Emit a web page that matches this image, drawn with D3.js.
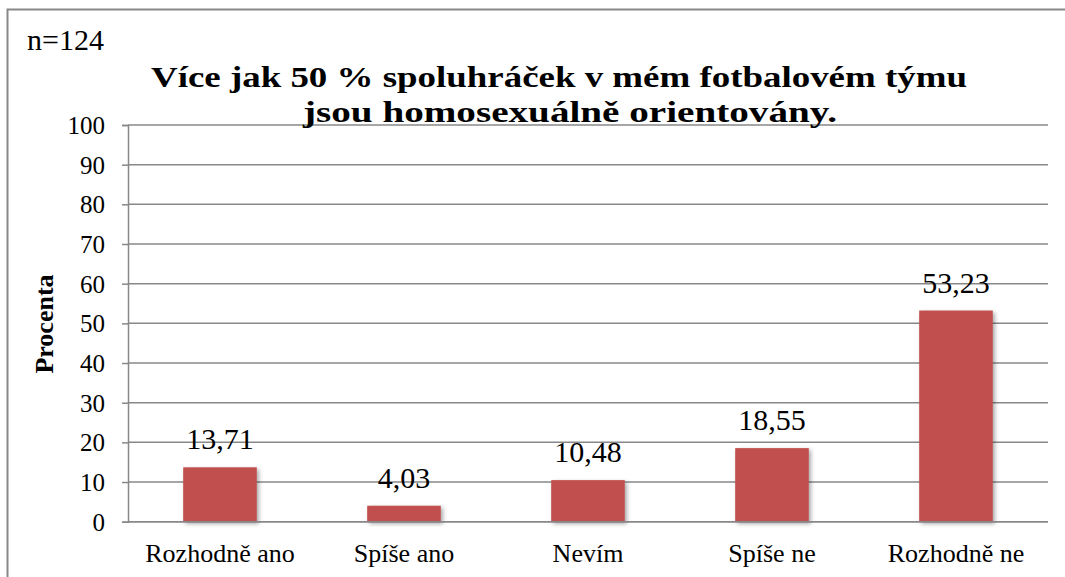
<!DOCTYPE html>
<html>
<head>
<meta charset="utf-8">
<script src="https://cdn.jsdelivr.net/npm/d3@7"></script>
<style>
  html, body { margin: 0; padding: 0; background: #fff; }
  svg { display: block; }
</style>
</head>
<body>
<svg id="chart" width="1065" height="577"></svg>
<script>
const categories = ["Rozhodně ano", "Spíše ano", "Nevím", "Spíše ne", "Rozhodně ne"];
const values = [13.71, 4.03, 10.48, 18.55, 53.23];
const valueLabels = ["13,71", "4,03", "10,48", "18,55", "53,23"];
const yTicks = [0, 10, 20, 30, 40, 50, 60, 70, 80, 90, 100];
const titleLines = ["Více jak 50 % spoluhráček v mém fotbalovém týmu", "jsou homosexuálně orientovány."];
const sampleNote = "n=124";
const yAxisTitle = "Procenta";

const FONT = "Liberation Serif";
const svg = d3.select("#chart");
const W = 1065, H = 577;
const plot = { left: 128, right: 1048, top: 125, bottom: 521.7 };

const defs = svg.append("defs");
const f = defs.append("filter").attr("id", "shadow").attr("x", "-20%").attr("y", "-20%").attr("width", "150%").attr("height", "150%");
f.append("feDropShadow").attr("dx", 2).attr("dy", 2).attr("stdDeviation", 2).attr("flood-color", "#000").attr("flood-opacity", 0.35);

svg.append("path")
  .attr("d", `M7.5,${H} L7.5,9.5 L${W},9.5`)
  .attr("fill", "none").attr("stroke", "#888").attr("stroke-width", 2);

const x = d3.scaleBand().domain(categories).range([plot.left, plot.right]).paddingInner(0.6).paddingOuter(0.3);
const y = d3.scaleLinear().domain([0, 100]).range([plot.bottom, plot.top]);

svg.append("g").selectAll("line").data(yTicks).join("line")
  .attr("x1", plot.left).attr("x2", plot.right)
  .attr("y1", d => y(d)).attr("y2", d => y(d))
  .attr("stroke", "#888").attr("stroke-width", 1.5);

const yAxis = d3.axisLeft(y).tickValues(yTicks).tickSize(6).tickPadding(17);
const gy = svg.append("g").attr("transform", `translate(${plot.left},0)`).call(yAxis)
  .attr("font-family", FONT).attr("font-size", 25);
gy.select(".domain").attr("stroke", "#888").attr("stroke-width", 1.5);
gy.selectAll(".tick line").attr("stroke", "#888").attr("stroke-width", 1.5);
gy.selectAll(".tick text").attr("font-family", FONT).attr("font-size", 25).attr("fill", "#000").attr("dy", "0.34em");

svg.append("g").selectAll("rect").data(values).join("rect")
  .attr("x", (d, i) => x(categories[i]))
  .attr("width", x.bandwidth())
  .attr("y", d => y(d))
  .attr("height", d => y(0) - y(d))
  .attr("fill", "#C0504D")
  .attr("filter", "url(#shadow)");

svg.append("line").attr("x1", plot.left).attr("x2", plot.right).attr("y1", y(0)).attr("y2", y(0))
  .attr("stroke", "#888").attr("stroke-width", 1.5);

svg.append("g").selectAll("text").data(values).join("text")
  .attr("x", (d, i) => x(categories[i]) + x.bandwidth() / 2)
  .attr("y", d => y(d) - 18)
  .attr("text-anchor", "middle")
  .attr("font-family", FONT).attr("font-size", 30)
  .text((d, i) => valueLabels[i]);

svg.append("g").selectAll("text").data(categories).join("text")
  .attr("x", d => x(d) + x.bandwidth() / 2)
  .attr("y", 562)
  .attr("text-anchor", "middle")
  .attr("font-family", FONT).attr("font-size", 26)
  .text(d => d);

const titleX = [151, 303], titleW = [816, 534];
svg.append("g").selectAll("text").data(titleLines).join("text")
  .attr("x", (d, i) => titleX[i])
  .attr("y", (d, i) => 87 + i * 35)
  .attr("textLength", (d, i) => titleW[i])
  .attr("lengthAdjust", "spacingAndGlyphs")
  .attr("font-family", FONT).attr("font-size", 30).attr("font-weight", "bold")
  .text(d => d);

svg.append("text").attr("x", 27).attr("y", 50)
  .attr("font-family", FONT).attr("font-size", 30)
  .text(sampleNote);

svg.append("text")
  .attr("transform", `translate(53,324) rotate(-90)`)
  .attr("text-anchor", "middle")
  .attr("font-family", FONT).attr("font-size", 26).attr("font-weight", "bold")
  .text(yAxisTitle);
</script>
</body>
</html>
